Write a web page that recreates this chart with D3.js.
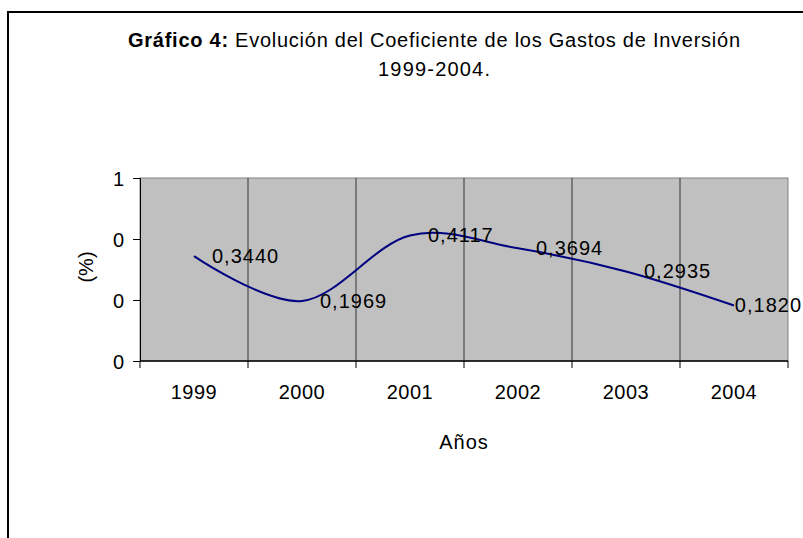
<!DOCTYPE html>
<html><head><meta charset="utf-8">
<script src="https://cdn.jsdelivr.net/npm/d3@7"></script>
<style>
html,body{margin:0;padding:0;background:#fff;}
svg text{font-family:"Liberation Sans",Arial,sans-serif;fill:#000;}
</style></head>
<body>
<svg id="chart" width="803" height="538"></svg>
<script>
const categories = ["1999","2000","2001","2002","2003","2004"];
const values = [0.3440, 0.1969, 0.4117, 0.3694, 0.2935, 0.1820];
const yTicks = [0, 0.2, 0.4, 0.6];
const titleBold = "Gráfico 4:";
const titleRest = " Evolución del Coeficiente de los Gastos de Inversión";
const titleLine2 = "1999-2004.";
const xTitle = "Años";
const yTitle = "(%)";

const svg = d3.select("#chart");
const fs = 20;
const plot = {left:140, right:788, top:178, bottom:361};

// outer border
svg.append("rect").attr("x",8).attr("y",12).attr("width",820).attr("height",560)
  .attr("fill","none").attr("stroke","#000").attr("stroke-width",2);

const x = d3.scaleBand().domain(categories).range([plot.left, plot.right]);
const y = d3.scaleLinear().domain([0, 0.6]).range([plot.bottom, plot.top]);

// plot background
svg.append("rect").attr("x",plot.left).attr("y",plot.top)
  .attr("width",plot.right-plot.left).attr("height",plot.bottom-plot.top)
  .attr("fill","#C0C0C0").attr("stroke","#808080").attr("stroke-width",1);

// vertical gridlines at category boundaries
svg.append("g").selectAll("line").data(categories.slice(1)).join("line")
  .attr("x1",d=>x(d)).attr("x2",d=>x(d))
  .attr("y1",plot.top).attr("y2",plot.bottom)
  .attr("stroke","#333").attr("stroke-width",1);

// y axis
const yAxis = d3.axisLeft(y).tickValues(yTicks).tickFormat(d3.format(".0f")).tickSizeOuter(0).tickSize(7).tickPadding(9);
const gy = svg.append("g").attr("transform",`translate(${plot.left},0)`).call(yAxis);
gy.select(".domain").attr("stroke","#000");
gy.selectAll(".tick line").attr("stroke","#000");
gy.selectAll("text").attr("font-size",fs).attr("font-family","Liberation Sans, Arial, sans-serif").attr("dy","0.35em");

// x axis: ticks at boundaries
const gx = svg.append("g").attr("transform",`translate(0,${plot.bottom})`);
gx.append("line").attr("x1",plot.left).attr("x2",plot.right).attr("y1",0).attr("y2",0).attr("stroke","#000").attr("stroke-width",1.5);
const bounds = categories.map(d=>x(d)).concat([plot.right]);
gx.selectAll("line.t").data(bounds).join("line").attr("class","t")
  .attr("x1",d=>d).attr("x2",d=>d).attr("y1",0).attr("y2",7).attr("stroke","#000");
gx.selectAll("text").data(categories).join("text")
  .attr("x",d=>x(d)+x.bandwidth()/2).attr("y",38)
  .attr("text-anchor","middle").attr("font-size",fs).attr("letter-spacing",0.5).text(d=>d);

// line
const pts = categories.map((c,i)=>[x(c)+x.bandwidth()/2, y(values[i])]);
svg.append("path").datum(pts)
  .attr("d", d3.line().curve(d3.curveCatmullRom.alpha(0)))
  .attr("fill","none").attr("stroke","#000080").attr("stroke-width",2);

// data labels
const loc = d3.formatLocale({decimal:",", thousands:".", grouping:[3], currency:["",""]});
const fmt = loc.format(".4f");
const labels = svg.append("g").selectAll("text").data(categories).join("text")
  .attr("x",(c)=>x(c)+x.bandwidth()/2+18)
  .attr("y",(c,i)=>y(values[i]))
  .attr("dy","0.35em").attr("letter-spacing",1)
  .attr("font-size",fs).text((c,i)=>fmt(values[i]));
labels.each(function(){
  const w = this.getComputedTextLength();
  const cx = +this.getAttribute("x");
  if (cx + w > 802) this.setAttribute("x", 802 - w);
});

// titles
const t = svg.append("text").attr("x",128).attr("y",47).attr("font-size",fs)
  .attr("textLength",612).attr("lengthAdjust","spacing");
t.append("tspan").attr("font-weight","bold").text(titleBold);
t.append("tspan").text(titleRest);
svg.append("text").attr("x",378).attr("y",76).attr("font-size",fs)
  .attr("textLength",112).attr("lengthAdjust","spacing").text(titleLine2);

svg.append("text").attr("x",(plot.left+plot.right)/2).attr("y",449).attr("text-anchor","middle").attr("font-size",fs).attr("letter-spacing",1).text(xTitle);
svg.append("text").attr("transform","translate(93,267) rotate(-90)").attr("text-anchor","middle").attr("font-size",fs).text(yTitle);
</script>
</body></html>
